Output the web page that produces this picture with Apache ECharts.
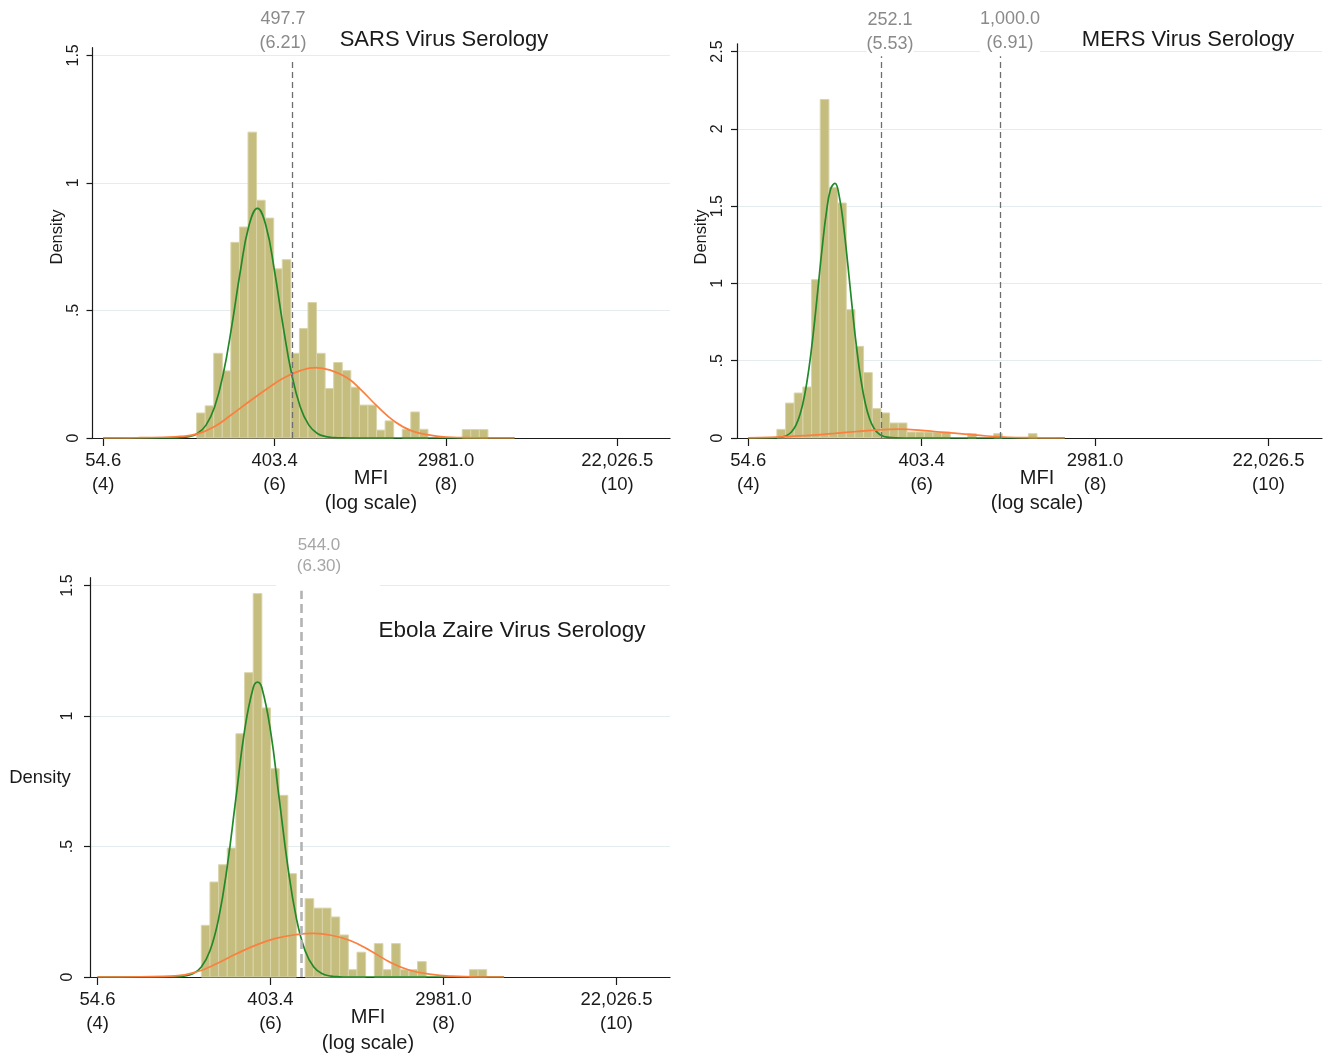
<!DOCTYPE html>
<html>
<head>
<meta charset="utf-8">
<script src="https://cdn.jsdelivr.net/npm/echarts@6/dist/echarts.min.js"></script>
<style>
html,body{margin:0;padding:0;background:#fff;}
#chart{width:1331px;height:1059px;}
</style>
</head>
<body>
<div id="chart"></div>
<script>
// ---------------- data ----------------
const xTickValues = [4, 6, 8, 10];
const xTickLabels = ['54.6\n(4)', '403.4\n(6)', '2981.0\n(8)', '22,026.5\n(10)'];
const xAxisTitle = 'MFI\n(log scale)';
const yAxisTitle = 'Density';

const panelTitles = ['SARS Virus Serology', 'MERS Virus Serology', 'Ebola Zaire Virus Serology'];

const sarsYTicks = [0, 0.5, 1, 1.5];
const sarsYLabels = ['0', '.5', '1', '1.5'];
const mersYTicks = [0, 0.5, 1, 1.5, 2, 2.5];
const mersYLabels = ['0', '.5', '1', '1.5', '2', '2.5'];
const ebolaYTicks = [0, 0.5, 1, 1.5];
const ebolaYLabels = ['0', '.5', '1', '1.5'];

const binWidth = 0.1;
const sarsBinStart = 5.09;
const sarsDensity = [0.098, 0.126, 0.332, 0.263, 0.767, 0.827, 1.199, 0.932, 0.862, 0.663,
  0.699, 0.332, 0.429, 0.531, 0.332, 0.194, 0.296, 0.264, 0.199, 0.129,
  0.129, 0.031, 0.067, 0, 0.034, 0.102, 0.034, 0, 0, 0,
  0, 0.033, 0.033, 0.033];
const mersBinStart = 4.33;
const mersDensity = [0.056, 0.226, 0.291, 0.33, 1.024, 2.19, 1.62, 1.52, 0.83, 0.593,
  0.423, 0.19, 0.162, 0.097, 0.097, 0.039, 0.039, 0.039, 0.039, 0.039,
  0, 0, 0.028, 0, 0, 0.028, 0, 0, 0, 0.028];
const ebolaBinStart = 5.20;
const ebolaDensity = [0.198, 0.364, 0.43, 0.494, 0.932, 1.166, 1.469, 1.031, 0.798, 0.696,
  0.396, 0, 0.30, 0.264, 0.264, 0.23, 0.161, 0.028, 0.095, 0,
  0.128, 0.028, 0.128, 0.028, 0.028, 0.059, 0, 0, 0, 0,
  0, 0.028, 0.028];

// fitted component curves [ln(MFI), density]
const sarsLowCurve = [[4.0,0],[4.7,0],[4.8,0.0003],[4.9,0.0014],[5.0,0.0054],[5.1,0.0178],[5.2,0.0505],
  [5.3,0.1218],[5.4,0.25],[5.5,0.438],[5.6,0.653],[5.7,0.831],[5.8,0.9],[5.9,0.831],[6.0,0.653],
  [6.1,0.438],[6.2,0.25],[6.3,0.1218],[6.4,0.0505],[6.5,0.0178],[6.6,0.0054],[6.7,0.0014],
  [6.8,0.0003],[6.9,0],[8.8,0]];
const sarsHighCurve = [[4.0,0],[4.4,0.001],[4.7,0.003],[4.9,0.006],[5.1,0.016],[5.3,0.045],[5.5,0.092],
  [5.7,0.142],[5.9,0.19],[6.1,0.234],[6.3,0.264],[6.48,0.276],[6.65,0.266],[6.85,0.235],[7.0,0.192],
  [7.2,0.124],[7.4,0.065],[7.6,0.028],[7.85,0.009],[8.0,0.004],[8.3,0.001],[8.8,0]];
const mersLowCurve = [[4.0,0],[4.2,0],[4.3,0.001],[4.4,0.0077],[4.45,0.0183],[4.5,0.0406],[4.55,0.0832],
  [4.6,0.158],[4.65,0.277],[4.7,0.451],[4.75,0.678],[4.8,0.945],[4.85,1.219],[4.9,1.456],[4.95,1.61],
  [5.0,1.647],[5.05,1.561],[5.1,1.369],[5.15,1.112],[5.2,0.835],[5.25,0.581],[5.3,0.374],[5.35,0.223],
  [5.4,0.123],[5.45,0.063],[5.5,0.0298],[5.55,0.013],[5.6,0.0053],[5.7,0.0007],[5.8,0],[7.65,0]];
const mersHighCurve = [[4.0,0.001],[4.25,0.004],[4.5,0.011],[4.75,0.019],[5.0,0.03],[5.25,0.042],
  [5.5,0.053],[5.75,0.057],[6.0,0.049],[6.25,0.037],[6.5,0.025],[6.75,0.013],[7.0,0.005],
  [7.25,0.002],[7.5,0.0005],[7.65,0]];
const ebolaLowCurve = [[4.0,0],[4.8,0],[4.9,0.0008],[5.0,0.0035],[5.1,0.0125],[5.2,0.0385],[5.3,0.1005],
  [5.4,0.2236],[5.5,0.424],[5.6,0.685],[5.7,0.944],[5.8,1.108],[5.85,1.13],[5.9,1.108],[6.0,0.944],
  [6.1,0.685],[6.2,0.424],[6.3,0.2236],[6.4,0.1005],[6.5,0.0385],[6.6,0.0125],[6.7,0.0035],
  [6.8,0.0008],[6.9,0],[8.7,0]];
const ebolaHighCurve = [[4.0,0],[4.5,0.001],[4.9,0.004],[5.15,0.02],[5.37,0.05],[5.6,0.088],[5.83,0.122],
  [6.06,0.148],[6.29,0.162],[6.5,0.167],[6.7,0.16],[6.92,0.14],[7.15,0.102],[7.38,0.057],[7.61,0.026],
  [7.86,0.01],[8.09,0.003],[8.4,0],[8.7,0]];

// cut-off lines (ln MFI) and their labels
const sarsCutoffs = [6.21];
const sarsCutoffLabels = ['497.7\n(6.21)'];
const mersCutoffs = [5.53, 6.91];
const mersCutoffLabels = ['252.1\n(5.53)', '1,000.0\n(6.91)'];
const ebolaCutoffs = [6.36];
const ebolaCutoffLabels = ['544.0\n(6.30)'];

// ---------------- styling ----------------
const FONT = '"Liberation Sans", Arial, Helvetica, sans-serif';
const INK = '#1a1a1a';
const BAR_FILL = '#c4bd7e';
const BAR_EDGE = '#d9d4aa';
const GREEN = '#22892a';
const ORANGE = '#fb7f3e';
const GRID_LINE = '#e3ecef';

function labelFor(values, labels) {
  return function (v) {
    for (let i = 0; i < values.length; i++) if (Math.abs(values[i] - v) < 1e-6) return labels[i];
    return '';
  };
}

function makeXAxis(gi, min, max) {
  return {
    type: 'value', gridIndex: gi, min: min, max: max,
    axisLine: { show: true, onZero: false, lineStyle: { color: INK, width: 1.2 } },
    axisTick: { show: true, customValues: xTickValues, length: 8, lineStyle: { color: INK, width: 1.2 } },
    axisLabel: { show: true, customValues: xTickValues, formatter: labelFor(xTickValues, xTickLabels),
      fontSize: 18.5, lineHeight: 24, color: INK, fontFamily: FONT, margin: 11 },
    splitLine: { show: false }
  };
}
function makeYAxis(gi, max, ticks, labels, margin) {
  return {
    type: 'value', gridIndex: gi, min: 0, max: max,
    axisLine: { show: true, onZero: false, lineStyle: { color: INK, width: 1.2 } },
    axisTick: { show: true, customValues: ticks, length: 6, lineStyle: { color: INK, width: 1.2 } },
    axisLabel: { show: true, customValues: ticks, rotate: 90, formatter: labelFor(ticks, labels),
      fontSize: 16, color: INK, fontFamily: FONT, margin: margin },
    splitLine: { show: true, lineStyle: { color: GRID_LINE, width: 1 } }
  };
}
function histSeries(gi, start, dens) {
  const data = [];
  dens.forEach(function (d, i) { if (d > 0) data.push([start + i * binWidth, start + (i + 1) * binWidth, d]); });
  return {
    type: 'custom', xAxisIndex: gi, yAxisIndex: gi, data: data,
    encode: { x: [0, 1], y: 2 }, silent: true, z: 2,
    renderItem: function (params, api) {
      const tl = api.coord([api.value(0), api.value(2)]);
      const br = api.coord([api.value(1), 0]);
      return { type: 'rect', shape: { x: tl[0], y: tl[1], width: br[0] - tl[0], height: br[1] - tl[1] },
        style: { fill: BAR_FILL, stroke: BAR_EDGE, lineWidth: 1 } };
    }
  };
}
function curveSeries(gi, pts, color, cut, cutTop, cutStyle) {
  const s = {
    type: 'line', xAxisIndex: gi, yAxisIndex: gi, data: pts, smooth: 0.45,
    showSymbol: false, symbol: 'none', silent: true, z: 4,
    lineStyle: { color: color, width: 1.7 }
  };
  if (cut) {
    s.markLine = {
      silent: true, symbol: ['none', 'none'], label: { show: false },
      lineStyle: cutStyle,
      data: cut.map(function (c) { return [{ coord: [c, 0] }, { coord: [c, cutTop] }]; })
    };
  }
  return s;
}

function txt(x, y, text, size, color, extra) {
  const el = {
    type: 'text', x: x, y: y, z: 100,
    style: Object.assign({ text: text, fill: color, fontSize: size, fontFamily: FONT,
      align: 'center', verticalAlign: 'middle' }, extra && extra.style ? extra.style : {})
  };
  if (extra && extra.rotation) el.rotation = extra.rotation;
  return el;
}

const darkDash = { color: '#6e6e6e', width: 1.3, type: [6, 4] };
const lightDash = { color: '#b3b3b3', width: 2.6, type: [9, 5] };

const option = {
  backgroundColor: '#ffffff',
  animation: false,
  textStyle: { fontFamily: FONT },
  grid: [
    { left: 92.5, top: 47.7, width: 577.5, height: 390.3, outerBoundsMode: 'none', containLabel: false },
    { left: 737, top: 43.8, width: 585, height: 394.2, outerBoundsMode: 'none', containLabel: false },
    { left: 90, top: 577.7, width: 580, height: 399.3, outerBoundsMode: 'none', containLabel: false }
  ],
  xAxis: [makeXAxis(0, 3.875, 10.615), makeXAxis(1, 3.870, 10.617), makeXAxis(2, 3.913, 10.619)],
  yAxis: [makeYAxis(0, 1.53, sarsYTicks, sarsYLabels, 11),
          makeYAxis(1, 2.55, mersYTicks, mersYLabels, 11),
          makeYAxis(2, 1.53, ebolaYTicks, ebolaYLabels, 14)],
  series: [
    histSeries(0, sarsBinStart, sarsDensity),
    curveSeries(0, sarsLowCurve, GREEN, sarsCutoffs, 1.49, darkDash),
    curveSeries(0, sarsHighCurve, ORANGE),
    histSeries(1, mersBinStart, mersDensity),
    curveSeries(1, mersLowCurve, GREEN, mersCutoffs, 2.47, darkDash),
    curveSeries(1, mersHighCurve, ORANGE),
    histSeries(2, ebolaBinStart, ebolaDensity),
    curveSeries(2, ebolaLowCurve, GREEN, ebolaCutoffs, 1.48, lightDash),
    curveSeries(2, ebolaHighCurve, ORANGE)
  ],
  graphic: [
    // white box behind the Ebola cut-off label (breaks the top grid line)
    { type: 'rect', z: 99, shape: { x: 276, y: 580, width: 104, height: 9 }, style: { fill: '#ffffff' } },
    txt(444, 40, panelTitles[0], 22, INK),
    txt(1188, 40, panelTitles[1], 22, INK),
    txt(512, 631, panelTitles[2], 22.5, INK),
    txt(57, 237, yAxisTitle, 16.5, INK, { rotation: Math.PI / 2 }),
    txt(701, 237, yAxisTitle, 16.5, INK, { rotation: Math.PI / 2 }),
    txt(40, 778, yAxisTitle, 18.5, INK),
    txt(371, 490.5, xAxisTitle, 20, INK, { style: { lineHeight: 25 } }),
    txt(1037, 490.5, xAxisTitle, 20, INK, { style: { lineHeight: 25 } }),
    txt(368, 1030, xAxisTitle, 20, INK, { style: { lineHeight: 26 } }),
    txt(283, 31, sarsCutoffLabels[0], 18, '#8a8a8a', { style: { lineHeight: 24 } }),
    txt(890, 32, mersCutoffLabels[0], 18, '#8a8a8a', { style: { lineHeight: 24, backgroundColor: '#ffffff' } }),
    txt(1010, 31, mersCutoffLabels[1], 18, '#8a8a8a', { style: { lineHeight: 24, backgroundColor: '#ffffff' } }),
    txt(319, 555.5, ebolaCutoffLabels[0], 17, '#a6a6a6', { style: { lineHeight: 21 } })
  ]
};

const chart = echarts.init(document.getElementById('chart'), null, { renderer: 'canvas', width: 1331, height: 1059 });
chart.setOption(option);
</script>
</body>
</html>
